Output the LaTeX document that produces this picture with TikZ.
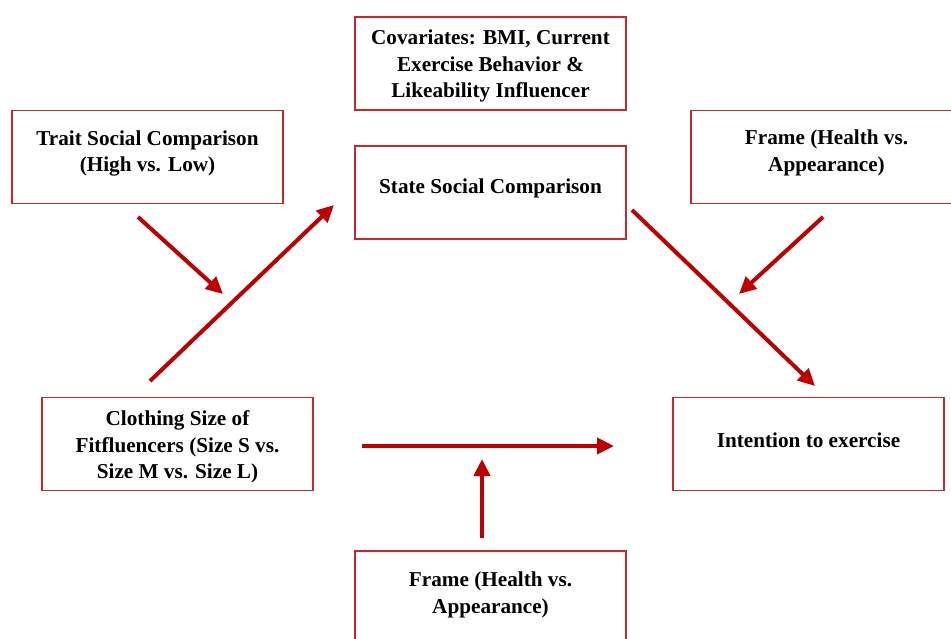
\documentclass[tikz,border=0pt]{standalone}
\usepackage{fontspec}
\setmainfont{Liberation Serif}
\usetikzlibrary{arrows.meta}
\definecolor{boxred}{RGB}{204,40,44}
\definecolor{arrred}{RGB}{192,0,0}
\tikzset{
  box/.style={draw=boxred, line width=1.8pt, minimum width=271pt, minimum height=93pt, inner sep=0pt, fill=white},
  lbl/.style={align=center, font=\bfseries\fontsize{21.2}{26.3}\selectfont, inner sep=0pt},
  arr/.style={draw=arrred, line width=4pt, -{Triangle[length=17pt,width=16pt]}}
}
\begin{document}
\begin{tikzpicture}[x=1pt,y=-1pt]
\useasboundingbox (0,0) rectangle (951,639);
% boxes
\node[box] (cov) at (490.5,63.5) {};
\node[box] (trait) at (147.5,157) {};
\node[box] (state) at (490.5,192.5) {};
\node[box] (frameA) at (826.5,157) {};
\node[box] (cloth) at (177.5,444) {};
\node[box] (intent) at (808.5,444) {};
\node[box] (frameB) at (490.5,597.5) {};
% labels
\node[lbl] (tcov) at (490.5,66) {Covariates: BMI, Current\\Exercise Behavior \&\\Likeability Influencer};
\node[lbl] (ttrait) at (147.5,153.5) {Trait Social Comparison\\(High vs. Low)};
\node[lbl] (tstate) at (490.5,188.5) {State Social Comparison};
\node[lbl] (tframeA) at (826.5,153) {Frame (Health vs.\\Appearance)};
\node[lbl] (tcloth) at (177.5,447) {Clothing Size of\\Fitfluencers (Size S vs.\\Size M vs. Size L)};
\node[lbl] (tintent) at (808.5,440.5) {Intention to exercise};
\node[lbl] (tframeB) at (490.5,595) {Frame (Health vs.\\Appearance)};
% arrow end points
\coordinate (a1s) at (138,217); \coordinate (a1e) at (223,294);
\coordinate (a2s) at (150,381); \coordinate (a2e) at (334,205);
\coordinate (a3s) at (632,210); \coordinate (a3e) at (815,386);
\coordinate (a4s) at (823,217); \coordinate (a4e) at (739,294);
\coordinate (a5s) at (362,446); \coordinate (a5e) at (614,446);
\coordinate (a6s) at (482,538); \coordinate (a6e) at (482,459);
\draw[arr] (a1s) -- (a1e);
\draw[arr] (a2s) -- (a2e);
\draw[arr] (a3s) -- (a3e);
\draw[arr] (a4s) -- (a4e);
\draw[arr] (a5s) -- (a5e);
\draw[arr] (a6s) -- (a6e);
\end{tikzpicture}
\end{document}
